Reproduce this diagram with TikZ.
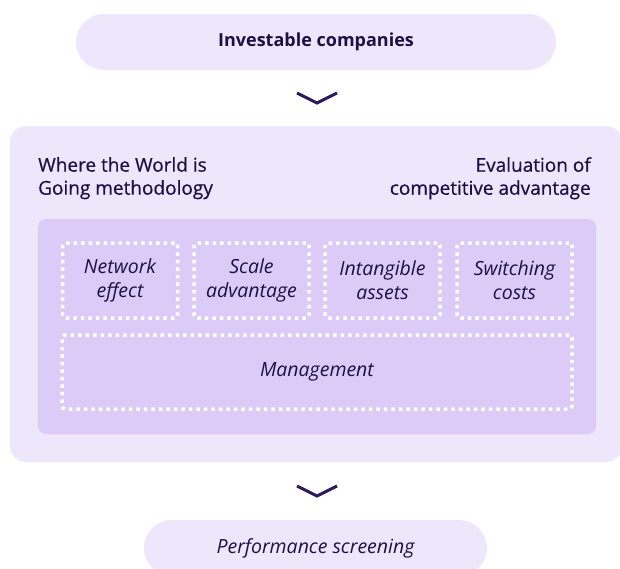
\documentclass[tikz,border=0pt]{standalone}
\usepackage{fontspec}
\setmainfont{Open Sans}
\newfontfamily\medfont{Open Sans}[FakeBold=0.6]
\definecolor{pale}{HTML}{EEE6FB}
\definecolor{lilac}{HTML}{DCCBF7}
\definecolor{ink}{HTML}{1E1045}
\definecolor{chev}{HTML}{2D1B5E}
\begin{document}
\begin{tikzpicture}[x=1pt,y=-1pt,
    pill/.style={fill=pale,rounded corners=28pt,minimum height=56pt,text=ink},
    factor/.style={draw=white,line width=3.5pt,dash pattern=on 3.5pt off 4pt,rounded corners=3pt,
      font=\fontsize{19.5}{24}\selectfont\itshape,text=ink,align=center,inner sep=0pt},
    heading/.style={font=\fontsize{19}{23}\medfont,text=ink,inner sep=0pt}]
      \useasboundingbox (0,0) rectangle (620,568);
      \clip (0,0) rectangle (620,568);
      % outer frames
      \node[pill,minimum width=480pt,font=\fontsize{18}{21}\selectfont\bfseries] (invest) at (316,42) {Investable companies};
      \node[fill=pale,rounded corners=16pt,minimum width=612pt,minimum height=336pt] (frame) at (316,294) {};
      \node[fill=lilac,rounded corners=8pt,minimum width=558pt,minimum height=215pt] (inner) at (317,326.5) {};
      \node[pill,minimum width=343pt,font=\fontsize{19.5}{21}\selectfont\itshape] (perf) at (315.5,548) {Performance screening};
      % headings
      \node[heading,anchor=north west,align=left] (wtwig) at (38,157) {Where the World is\\Going methodology};
      \node[heading,anchor=north east,align=right] (evcomp) at (591,157) {Evaluation of\\competitive advantage};
      % factors
      \node[factor,minimum width=115pt,minimum height=75pt] (net) at (120,280.5) {Network\\effect};
      \node[factor,minimum width=115pt,minimum height=75pt] (scale) at (251.5,280.5) {Scale\\advantage};
      \node[factor,minimum width=115pt,minimum height=75pt] (intang) at (382.5,280.5) {Intangible\\assets};
      \node[factor,minimum width=115pt,minimum height=75pt] (switch) at (514.5,280.5) {Switching\\costs};
      \node[factor,minimum width=510pt,minimum height=74pt] (mgmt) at (317,372) {Management};
      % chevrons
      \coordinate (c1) at (317,103);
      \coordinate (c2) at (317,496);
      \draw[draw=chev,line width=3pt] (c1) ++(-20,-10) -- (c1) -- ++(20,-10);
      \draw[draw=chev,line width=3pt] (c2) ++(-20,-10) -- (c2) -- ++(20,-10);
    \end{tikzpicture}
\end{document}
